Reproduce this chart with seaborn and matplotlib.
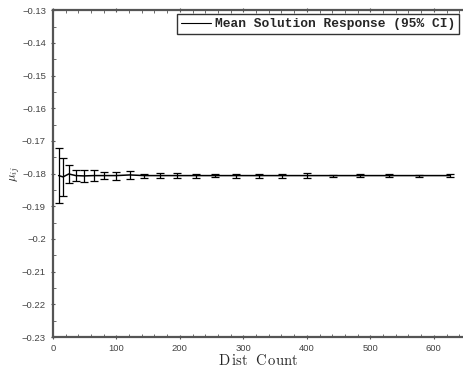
import numpy as np
import pandas as pd
import matplotlib
matplotlib.use("Agg")
import matplotlib.pyplot as plt
import seaborn as sns
from matplotlib.ticker import MultipleLocator

# Data
dist_count = [9, 16, 25, 36, 49, 64, 81, 100, 121, 144, 169, 196, 225, 256,
              289, 324, 361, 400, 441, 484, 529, 576, 625]
mean_resp = [-0.1806, -0.1810, -0.1801, -0.1806, -0.1807, -0.1806, -0.1806,
             -0.1806, -0.1804, -0.1806, -0.1806, -0.1806, -0.1806, -0.1806,
             -0.1806, -0.1806, -0.1806, -0.1806, -0.1806, -0.1806, -0.1806,
             -0.1806, -0.1806]
ci_half = [0.0085, 0.0058, 0.0028, 0.0018, 0.0019, 0.0017, 0.0011, 0.0012,
           0.0011, 0.0006, 0.0007, 0.0007, 0.0006, 0.0005, 0.0006, 0.0006,
           0.0006, 0.0007, 0.0003, 0.0004, 0.0004, 0.0003, 0.0004]

df = pd.DataFrame({"Dist Count": dist_count, "mean": mean_resp, "ci": ci_half})

sns.set_style("ticks")
plt.rcParams["mathtext.fontset"] = "cm"
plt.rcParams["font.family"] = ["Liberation Sans", "DejaVu Sans"]

fig = plt.figure(figsize=(4.64, 3.73), dpi=100)
ax = fig.add_axes([0.114, 0.0965, 0.884, 0.876])

sns.lineplot(data=df, x="Dist Count", y="mean", ax=ax, color="black",
             linewidth=1.1, label="Mean Solution Response (95% CI)")
ax.errorbar(df["Dist Count"], df["mean"], yerr=df["ci"], fmt="none",
            ecolor="black", elinewidth=0.9, capsize=3, capthick=0.9)

ax.set_xlim(0, 646)
ax.set_ylim(-0.23, -0.13)
ax.xaxis.set_major_locator(MultipleLocator(100))
ax.xaxis.set_minor_locator(MultipleLocator(20))
ax.yaxis.set_major_locator(MultipleLocator(0.01))
ax.yaxis.set_minor_locator(MultipleLocator(0.005))
ax.set_yticklabels([("%g" % v).replace("-", "\u2212") for v in ax.get_yticks()])

for s in ["left", "bottom", "top"]:
    ax.spines[s].set_color("#555555")
    ax.spines[s].set_linewidth(1.6)
ax.spines["right"].set_visible(False)

ax.tick_params(axis="both", which="major", labelsize=6.8, labelcolor="#444444",
               color="#555555", length=3, width=0.8, direction="inout")
ax.tick_params(axis="both", which="minor", color="#555555", length=2,
               width=0.6, direction="in")
ax.tick_params(axis="x", which="both", top=True)

ax.set_xlabel(r"$\mathrm{D\,ist\ \ C\,ount}$", fontsize=10.5, labelpad=0)
ax.set_ylabel(r"$\mu_{ij}$", fontsize=9, labelpad=0)

leg = ax.legend(loc="upper right", prop={"family": "Liberation Mono",
                                        "weight": "bold", "size": 9.3},
                frameon=True, fancybox=False, borderpad=0.3,
                handlelength=2.3, handletextpad=0.35, borderaxespad=0.3)
leg.get_frame().set_edgecolor("black")
leg.get_frame().set_linewidth(1.0)
for h in leg.get_lines():
    h.set_linewidth(0.8)

fig.savefig("out.png", dpi=100)
